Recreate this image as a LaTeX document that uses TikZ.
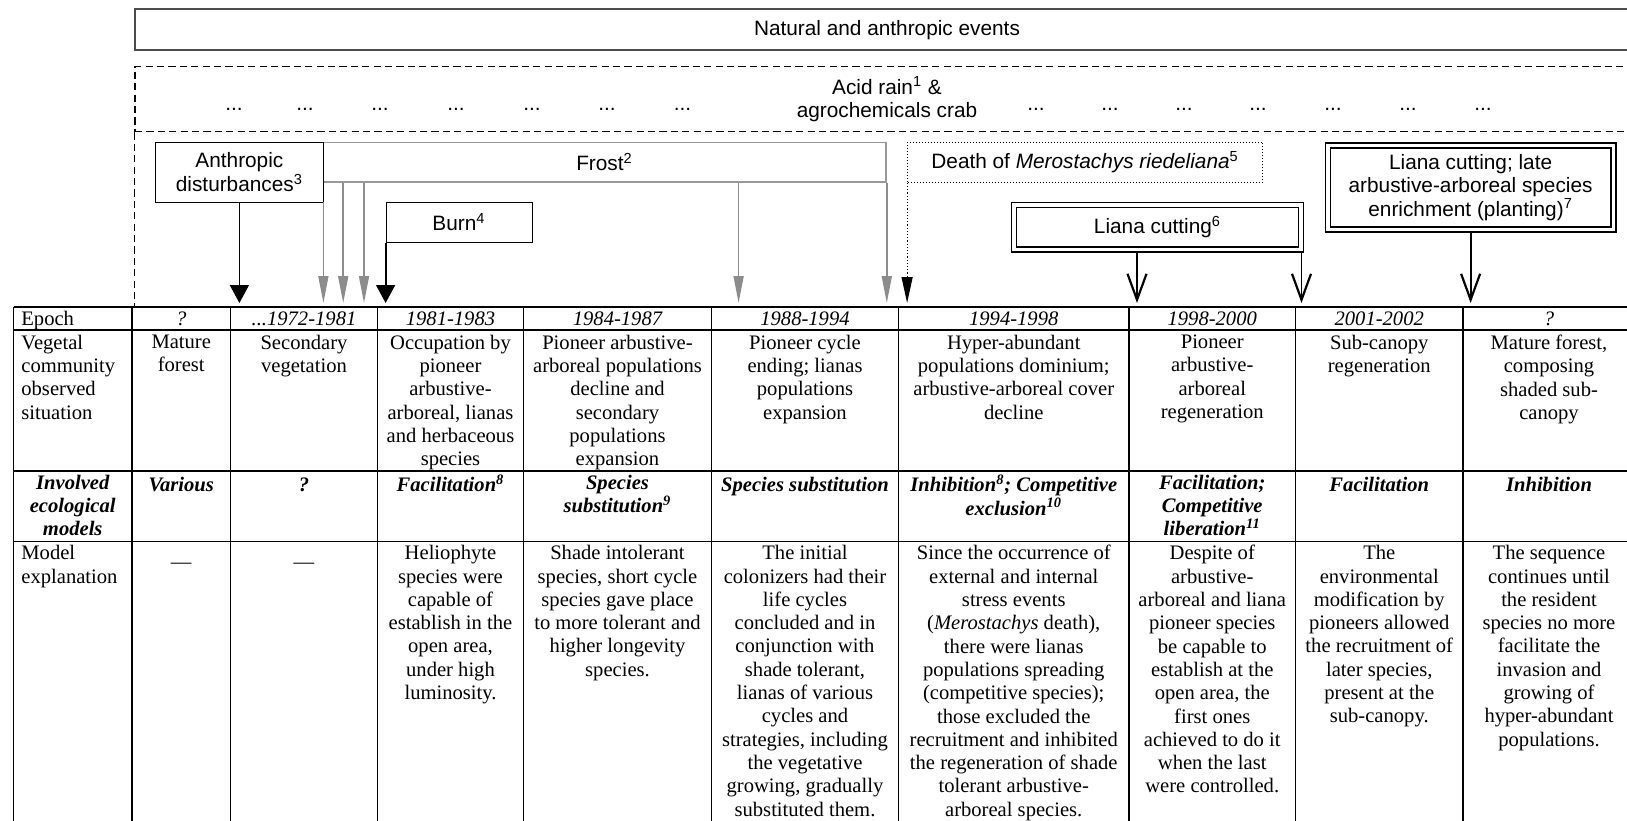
\documentclass[tikz,border=0pt]{standalone}
\usepackage{fontspec}
\setmainfont{Liberation Serif}
\setsansfont{Liberation Sans}
\usetikzlibrary{arrows.meta, calc}

\newcommand{\cellfont}{\fontsize{10.3pt}{11.65pt}\selectfont}
\newcommand{\evfont}{\sffamily\fontsize{10.4pt}{11.65pt}\selectfont}

\begin{document}
\begin{tikzpicture}[x=0.5pt, y=-0.5pt,
    event/.style={rectangle, draw, align=center, inner sep=0pt, font=\evfont},
    banner/.style={event, draw=black!70, line width=1pt},
    dashbox/.style={event, line width=0.7pt, dash pattern=on 3.6pt off 2.1pt},
    dotbox/.style={event, densely dotted, line width=0.5pt},
    frostbox/.style={event, draw=black!40, line width=0.8pt},
    dbl/.style={event, double, double distance=1.8pt, line width=0.7pt},
    gapdots/.style={font=\evfont, inner sep=0pt, anchor=base},
    cell/.style={anchor=north, align=center, inner sep=0pt, font=\cellfont, execute at begin node=\strut},
    lcell/.style={cell, anchor=north west, align=left},
    datecell/.style={cell, font=\cellfont\itshape},
    ecocell/.style={cell, font=\cellfont\bfseries\itshape},
    tabline/.style={line width=0.9pt},
    blackarrow/.style={-{Triangle[length=9pt, width=9.5pt]}, line width=0.9pt},
    grayarrow/.style={-{Triangle[length=13.5pt, width=5pt]}, draw=black!45, line width=0.8pt},
    dotarrow/.style={-{Triangle[length=13pt, width=5.5pt]}, densely dotted, line width=0.6pt},
    barbarrow/.style={-{Straight Barb[length=13pt, width=9.5pt, line width=1.1pt]}, line width=0.9pt, shorten <=1.6pt}
]

\useasboundingbox (0,0) rectangle (1627,820);
\fill[white] (0,0) rectangle (1627,820);

% Natural and anthropic events
\node[banner, minimum width=752pt, minimum height=20.35pt] (natural) at (887,29.7) {Natural and anthropic events};
\node[dashbox, minimum width=752pt, minimum height=32.5pt] (acid) at (887,99.2) {Acid rain\textsuperscript{1} \&\\agrochemicals crab};
\foreach \x [count=\i] in {234,305,380,456,532,607,682.5}
    \node[gapdots] (ldots\i) at (\x,110) {...};
\foreach \x [count=\i] in {1036,1110,1184,1258,1333,1408,1483}
    \node[gapdots] (rdots\i) at (\x,110) {...};

\node[frostbox, minimum width=281.5pt, minimum height=19.7pt] (frost) at (604.5,162) {Frost\textsuperscript{2}};
\node[event, fill=white, minimum width=83.6pt, minimum height=29.85pt] (anth) at (239.4,172.2) {Anthropic\\disturbances\textsuperscript{3}};
\node[dotbox, minimum width=177.5pt, minimum height=20pt] (death) at (1085.1,162.3) {Death of \textit{Merostachys riedeliana}\textsuperscript{5}};
\node[event, minimum width=73pt, minimum height=20.35pt] (burn) at (459,222.3) {Burn\textsuperscript{4}};
\node[dbl, minimum width=143.3pt, minimum height=22.3pt] (liana) at (1157.5,227.2) {Liana cutting\textsuperscript{6}};
\node[dbl, minimum width=142.9pt, minimum height=42pt] (late) at (1470.6,187.5) {Liana cutting; late\\arbustive-arboreal species\\enrichment (planting)\textsuperscript{7}};

\coordinate (tip) at (0,303);
\coordinate (tabletop) at (0,307);

% Event arrows
\draw[dashbox] (acid.south west) -- (acid.south west |- tabletop);
\draw[blackarrow] (anth.south) -- (anth.south |- tip);
\draw[grayarrow] (anth.south east) -- (anth.south east |- tip);
\foreach \dx in {10.5pt,20.9pt,208.2pt}
    \draw[grayarrow] ([xshift=\dx]frost.south west) -- ([xshift=\dx]frost.south west |- tip);
\draw[grayarrow] (frost.south east) -- (frost.south east |- tip);
\draw[blackarrow] (burn.south west) -- (burn.south west |- tip);
\draw[dotarrow] (death.south west) -- (death.south west |- tip);
\draw[barbarrow] ([xshift=-10.25pt]liana.south) -- ([xshift=-10.25pt]liana.south |- tip);
\draw[barbarrow] (liana.south east) -- (liana.south east |- tip);
\draw[barbarrow] (late.south) -- (late.south |- tip);

% Table
\foreach \y in {307,330,471,541.5}
    \draw[tabline] (13.5,\y) -- (1635,\y);
\foreach \x in {13.5,132,230.5,377.5,523.5,711.5,898.5,1129,1295.5,1463,1635}
    \draw[tabline] (\x,307) -- (\x,830);

% Epoch
\node[lcell] (ep0) at (21,308.5) {Epoch};
\node[datecell] (ep1) at (181.25,308.5) {?};
\node[datecell] (ep2) at (304,308.5) {...1972-1981};
\node[datecell] (ep3) at (450.5,308.5) {1981-1983};
\node[datecell] (ep4) at (617.5,308.5) {1984-1987};
\node[datecell] (ep5) at (805,308.5) {1988-1994};
\node[datecell] (ep6) at (1013.75,308.5) {1994-1998};
\node[datecell] (ep7) at (1212.25,308.5) {1998-2000};
\node[datecell] (ep8) at (1379.25,308.5) {2001-2002};
\node[datecell] (ep9) at (1549,308.5) {?};

% Vegetal community
\node[lcell] (veg0) at (21,334.5) {Vegetal\\community\\observed\\situation};
\node[cell] (veg1) at (181.25,334.5) {Mature\\forest};
\node[cell] (veg2) at (304,334.5) {Secondary\\vegetation};
\node[cell] (veg3) at (450.5,334.5) {Occupation by\\pioneer\\arbustive-\\arboreal, lianas\\and herbaceous\\species};
\node[cell] (veg4) at (617.5,334.5) {Pioneer arbustive-\\arboreal populations\\decline and\\secondary\\populations\\expansion};
\node[cell] (veg5) at (805,334.5) {Pioneer cycle\\ending; lianas\\populations\\expansion};
\node[cell] (veg6) at (1013.75,334.5) {Hyper-abundant\\populations dominium;\\arbustive-arboreal cover\\decline};
\node[cell] (veg7) at (1212.25,334.5) {Pioneer\\arbustive-\\arboreal\\regeneration};
\node[cell] (veg8) at (1379.25,334.5) {Sub-canopy\\regeneration};
\node[cell] (veg9) at (1549,334.5) {Mature forest,\\composing\\shaded sub-\\canopy};

% Ecological models
\node[ecocell] (eco0) at (72.75,474.5) {Involved\\ecological\\models};
\node[ecocell] (eco1) at (181.25,474.5) {Various};
\node[ecocell] (eco2) at (304,474.5) {?};
\node[ecocell] (eco3) at (450.5,474.5) {Facilitation\textsuperscript{8}};
\node[ecocell] (eco4) at (617.5,474.5) {Species\\substitution\textsuperscript{9}};
\node[ecocell] (eco5) at (805,474.5) {Species substitution};
\node[ecocell] (eco6) at (1013.75,474.5) {Inhibition\textsuperscript{8}; Competitive\\exclusion\textsuperscript{10}};
\node[ecocell] (eco7) at (1212.25,474.5) {Facilitation;\\Competitive\\liberation\textsuperscript{11}};
\node[ecocell] (eco8) at (1379.25,474.5) {Facilitation};
\node[ecocell] (eco9) at (1549,474.5) {Inhibition};

% Model explanation
\node[lcell] (exp0) at (21,545) {Model\\explanation};
\node[font=\cellfont, inner sep=0pt] (exp1) at (181.25,566) {---};
\node[font=\cellfont, inner sep=0pt] (exp2) at (304,566) {---};
\node[cell] (exp3) at (450.5,545) {Heliophyte\\species were\\capable of\\establish in the\\open area,\\under high\\luminosity.};
\node[cell] (exp4) at (617.5,545) {Shade intolerant\\species, short cycle\\species gave place\\to more tolerant and\\higher longevity\\species.};
\node[cell] (exp5) at (805,545) {The initial\\colonizers had their\\life cycles\\concluded and in\\conjunction with\\shade tolerant,\\lianas of various\\cycles and\\strategies, including\\the vegetative\\growing, gradually\\substituted them.};
\node[cell] (exp6) at (1013.75,545) {Since the occurrence of\\external and internal\\stress events\\(\textit{Merostachys} death),\\there were lianas\\populations spreading\\(competitive species);\\those excluded the\\recruitment and inhibited\\the regeneration of shade\\tolerant arbustive-\\arboreal species.};
\node[cell] (exp7) at (1212.25,545) {Despite of\\arbustive-\\arboreal and liana\\pioneer species\\be capable to\\establish at the\\open area, the\\first ones\\achieved to do it\\when the last\\were controlled.};
\node[cell] (exp8) at (1379.25,545) {The\\environmental\\modification by\\pioneers allowed\\the recruitment of\\later species,\\present at the\\sub-canopy.};
\node[cell] (exp9) at (1549,545) {The sequence\\continues until\\the resident\\species no more\\facilitate the\\invasion and\\growing of\\hyper-abundant\\populations.};

\end{tikzpicture}
\end{document}
